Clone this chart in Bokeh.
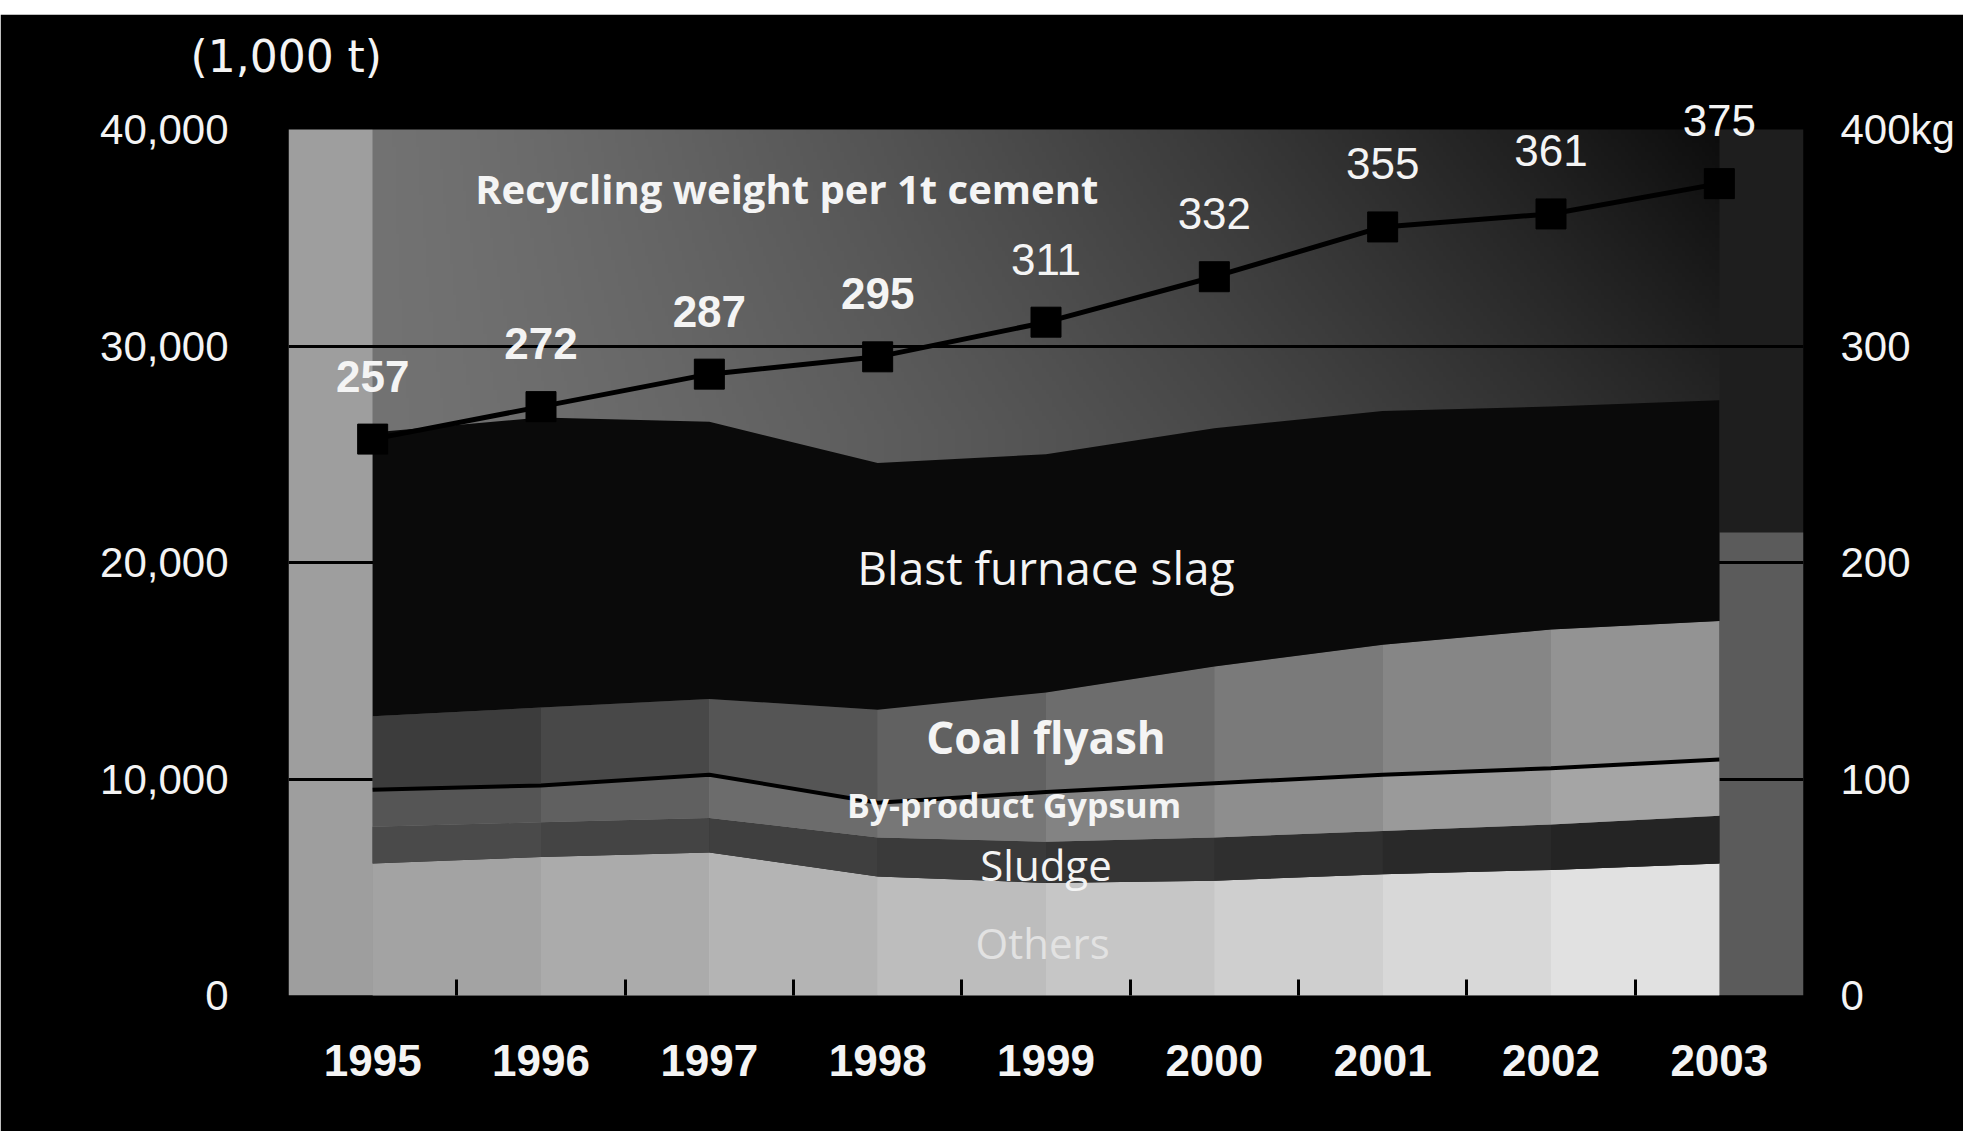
import numpy as np
from bokeh.plotting import figure
from bokeh.models import (Range1d, LinearAxis, FixedTicker, NumeralTickFormatter,
                          ColumnDataSource, LabelSet, Label, Spacer)
from bokeh.layouts import column
from bokeh.embed import file_html
from bokeh.resources import INLINE
from bokeh.core.properties import value

# ---------------- data ----------------
years = [1995, 1996, 1997, 1998, 1999, 2000, 2001, 2002, 2003]
others = [6100, 6400, 6600, 5500, 5200, 5300, 5600, 5800, 6100]
sludge = [1700, 1600, 1600, 1800, 1900, 2000, 2000, 2100, 2200]
gypsum = [1700, 1700, 2000, 1600, 2300, 2500, 2600, 2600, 2600]
flyash = [3400, 3600, 3500, 4300, 4600, 5400, 6000, 6400, 6400]
slag = [13100, 13400, 12800, 11400, 11000, 11000, 10800, 10300, 10200]
per_ton = [257, 272, 287, 295, 311, 332, 355, 361, 375]

layer_names = ["Others", "Sludge", "By-product Gypsum", "Coal flyash", "Blast furnace slag"]
y_ticks = [0, 10000, 20000, 30000, 40000]
kg_ticks = [0, 100, 200, 300, 400]
kg_tick_labels = ["0", "100", "200", "300", "400kg"]
line_label = "Recycling weight per 1t cement"
unit_label = "(1,000 t)"

# ---------------- styling ----------------
WHITE = "#f4f4f4"
NUM_FONT = "Liberation Sans"
TXT_FONT = "Open Sans"
layer_gray_left = [0.62, 0.30, 0.31, 0.21, 0.04]
layer_gray_right = [0.90, 0.13, 0.67, 0.60, 0.04]

FIG_W, FIG_H = 1963, 1117
B_LEFT, B_RIGHT, B_TOP, B_BOTTOM = 288, 160, 75, 136
FRAME_H = FIG_H - B_TOP - B_BOTTOM          # 906 px
AXIS_H = 866                                # px between 0 and the top tick
HEADROOM = FRAME_H / AXIS_H                 # room above the top tick for value labels

x0 = years[0] - 0.5
x1 = years[-1] + 0.5
y_top = y_ticks[-1] * HEADROOM

p = figure(width=FIG_W, height=FIG_H,
           x_range=Range1d(x0, x1), y_range=Range1d(y_ticks[0], y_top),
           output_backend="svg", toolbar_location=None,
           min_border_left=B_LEFT, min_border_right=B_RIGHT,
           min_border_top=B_TOP, min_border_bottom=B_BOTTOM,
           background_fill_color="black", border_fill_color="black",
           outline_line_color="black", outline_line_width=2)
p.extra_y_ranges = {"kg": Range1d(kg_ticks[0], kg_ticks[-1] * HEADROOM)}

p.title.text = unit_label
p.title.align = "left"
p.title.offset = -98
p.title.standoff = 16
p.title.text_color = WHITE
p.title.text_font = "DejaVu Sans"
p.title.text_font_size = "44px"
p.title.text_font_style = "normal"

# ---------------- background gradient (plot area up to the top tick) ----------------
W, H = 450, 200
xs = x0 + (np.arange(W) + 0.5) / W * (x1 - x0)
ys = (np.arange(H) + 0.5) / H * y_ticks[-1]
X, Y = np.meshgrid(xs, ys)
t = np.clip((X - years[0]) / (years[-1] - years[0]), 0, 1)
s = np.clip((Y - 26000) / 14000, 0, 1)
g = 0.45 - 0.30 * t ** 1.3 - 0.10 * t * s
g = np.where(X < years[0], 0.62, g)
g = np.where(X > years[-1], np.where(Y < 21500, 0.36, 0.12), g)
img = np.empty((H, W), dtype=np.uint32)
view = img.view(dtype=np.uint8).reshape((H, W, 4))
v8 = (g * 255).astype(np.uint8)
view[..., 0] = v8
view[..., 1] = v8
view[..., 2] = v8
view[..., 3] = 255
p.image_rgba(image=[img], x=x0, y=0, dw=x1 - x0, dh=y_ticks[-1], level="image")

# ---------------- stacked areas ----------------
def gray_hex(v):
    c = int(round(max(0, min(1, v)) * 255))
    return "#%02x%02x%02x" % (c, c, c)

layers = [others, sludge, gypsum, flyash, slag]
base = np.zeros(len(years))
tops = []
nseg = len(years) - 1
for k, layer in enumerate(layers):
    top = base + np.array(layer, dtype=float)
    gl, gr = layer_gray_left[k], layer_gray_right[k]
    p.varea(x=years, y1=base, y2=top, fill_color=gray_hex((gl + gr) / 2))
    if gl != gr:
        for i in range(nseg):
            f = (i + 0.5) / nseg
            p.varea(x=years[i:i + 2], y1=base[i:i + 2], y2=top[i:i + 2],
                    fill_color=gray_hex(gl + (gr - gl) * f))
    tops.append(top)
    base = top

# dark edge between gypsum and flyash
p.line(years, tops[2], line_color="black", line_width=4)

# ---------------- per-ton line ----------------
p.line(years, per_ton, y_range_name="kg", line_color="black", line_width=5)
p.scatter(years, per_ton, y_range_name="kg", marker="square", size=30,
          fill_color="black", line_color="black")

n_bold = 4
src_b = ColumnDataSource(dict(x=years[:n_bold], y=per_ton[:n_bold],
                              t=[str(v) for v in per_ton[:n_bold]]))
src_n = ColumnDataSource(dict(x=years[n_bold:], y=per_ton[n_bold:],
                              t=[str(v) for v in per_ton[n_bold:]]))
for src, style in ((src_b, "bold"), (src_n, "normal")):
    p.add_layout(LabelSet(x="x", y="y", text="t", source=src, y_range_name="kg",
                          y_offset=63, text_align="center", text_baseline="middle",
                          text_color=WHITE, text_font=value(NUM_FONT),
                          text_font_size="44px", text_font_style=style))

# ---------------- axes ----------------
p.xaxis.ticker = FixedTicker(ticks=years, minor_ticks=[y + 0.5 for y in years[:-1]])
p.xaxis.axis_line_color = None
p.xaxis.major_tick_line_color = None
p.xaxis.major_tick_in = 0
p.xaxis.major_tick_out = 0
p.xaxis.minor_tick_in = 16
p.xaxis.minor_tick_out = 0
p.xaxis.minor_tick_line_color = "black"
p.xaxis.minor_tick_line_width = 3
p.xaxis.major_label_standoff = 49
p.xaxis.major_label_text_color = WHITE
p.xaxis.major_label_text_font = NUM_FONT
p.xaxis.major_label_text_font_size = "44px"
p.xaxis.major_label_text_font_style = "bold"

p.yaxis.ticker = FixedTicker(ticks=y_ticks)
p.yaxis.formatter = NumeralTickFormatter(format="0,0")
p.yaxis.axis_line_color = None
p.yaxis.major_tick_line_color = None
p.yaxis.minor_tick_line_color = None
p.yaxis.major_tick_in = 0
p.yaxis.major_tick_out = 0
p.yaxis.major_label_standoff = 60
p.yaxis.major_label_text_color = WHITE
p.yaxis.major_label_text_font = NUM_FONT
p.yaxis.major_label_text_font_size = "42px"

ra = LinearAxis(y_range_name="kg", ticker=FixedTicker(ticks=kg_ticks),
                major_label_overrides=dict(zip(kg_ticks, kg_tick_labels)))
ra.axis_line_color = None
ra.major_tick_line_color = None
ra.minor_tick_line_color = None
ra.major_tick_in = 0
ra.major_tick_out = 0
ra.major_label_standoff = 37
ra.major_label_text_color = WHITE
ra.major_label_text_font = NUM_FONT
ra.major_label_text_font_size = "42px"
p.add_layout(ra, "right")

p.xgrid.grid_line_color = None
p.ygrid.ticker = FixedTicker(ticks=y_ticks[:-1])
p.ygrid.grid_line_color = "black"
p.ygrid.grid_line_width = 3

# ---------------- text labels ----------------
def add_label(x, y, text, size, style="normal", color=WHITE, font=TXT_FONT):
    p.add_layout(Label(x=x, y=y, text=text, text_align="center", text_baseline="middle",
                       text_color=color, text_font=font, text_font_size=size,
                       text_font_style=style))

add_label(1997.46, 37270, line_label, "40px", "bold")
add_label(1999.0, 19770, layer_names[4], "46px")
add_label(1999.0, 11920, layer_names[3], "44px", "bold")
add_label(1998.81, 8780, layer_names[2], "34px", "bold")
add_label(1999.0, 6050, layer_names[1], "42px")
add_label(1998.98, 2450, layer_names[0], "42px", color="#e2e2e2")

layout = column(Spacer(height=14), p)
open("out.html", "w").write(file_html(layout, INLINE))
